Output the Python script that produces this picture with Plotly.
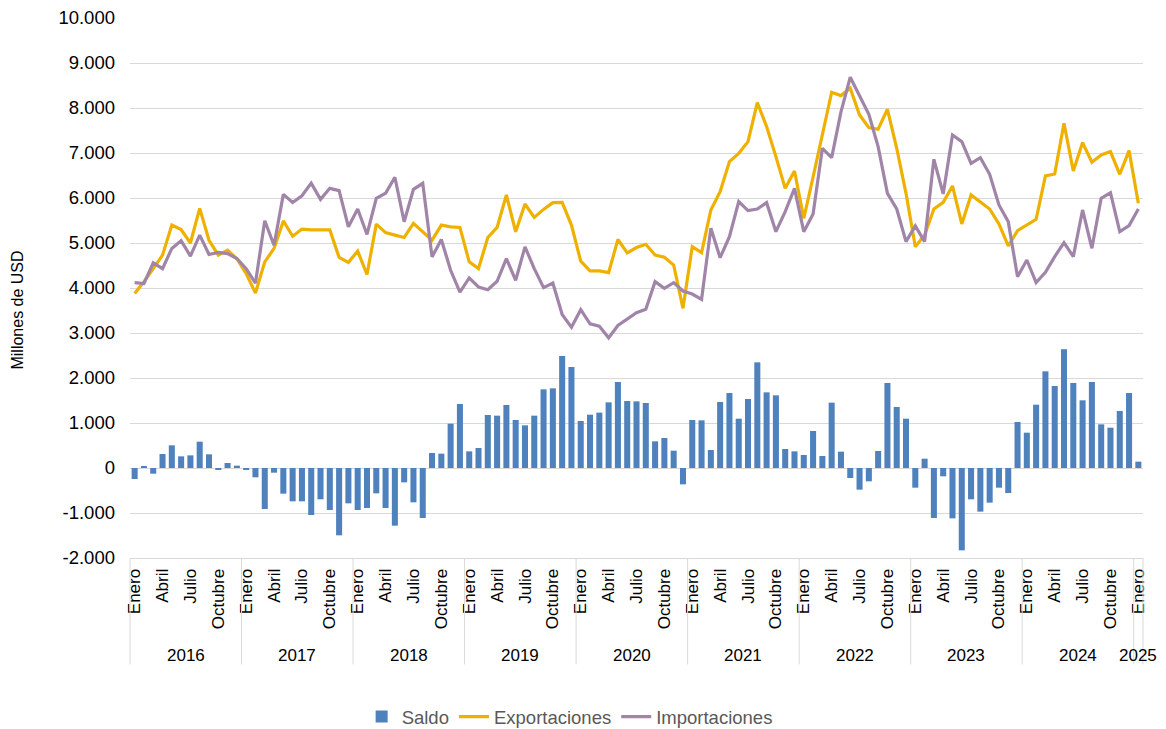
import plotly.graph_objects as go

# ---------------- data ----------------
years = ["2016", "2017", "2018", "2019", "2020", "2021", "2022", "2023", "2024", "2025"]
month_names = ["Enero", "Febrero", "Marzo", "Abril", "Mayo", "Junio", "Julio",
               "Agosto", "Septiembre", "Octubre", "Noviembre", "Diciembre"]
shown_months = ["Enero", "Abril", "Julio", "Octubre"]

exportaciones = [
    3880, 4140, 4430, 4730, 5400, 5300, 5000, 5770, 5060, 4730, 4840, 4650,
    4320, 3890, 4580, 4880, 5490, 5150, 5310, 5290, 5290, 5290, 4680, 4570,
    4820, 4300, 5420, 5230, 5175, 5123, 5435, 5249, 5063, 5398, 5360, 5346,
    4580, 4431, 5123, 5346, 6067, 5249, 5866, 5569, 5747, 5896, 5903, 5398,
    4595, 4379, 4379, 4342, 5078, 4781, 4900, 4971, 4734, 4682, 4511, 3548,
    4919, 4785, 5734, 6141, 6808, 6993, 7253, 8120, 7587, 6919, 6215, 6601,
    5549, 6467, 7372, 8350, 8276, 8439, 7846, 7564, 7527, 7972, 7105, 6104,
    4919, 5178, 5756, 5904, 6267, 5423, 6067, 5919, 5756, 5423, 4934, 5275,
    5400, 5526, 6490, 6534, 7661, 6601, 7231, 6794, 6957, 7031, 6527, 7053,
    5882,
]
importaciones = [
    4120, 4100, 4560, 4430, 4880, 5050, 4710, 5175, 4745, 4790, 4765, 4655,
    4430, 4110, 5495, 4950, 6080, 5900, 6050, 6330, 5970, 6215, 6165, 5360,
    5755, 5190, 5995, 6105, 6461, 5472, 6193, 6327, 4691, 5078, 4394, 3911,
    4223, 4022, 3963, 4149, 4654, 4171, 4914, 4431, 4007, 4112, 3413, 3130,
    3517, 3204, 3152, 2892, 3167, 3316, 3450, 3526, 4141, 3993, 4119, 3933,
    3867, 3748, 5326, 4674, 5141, 5919, 5719, 5756, 5897, 5252, 5697, 6215,
    5252, 5645, 7105, 6897, 7913, 8683, 8290, 7861, 7142, 6104, 5756, 5030,
    5378, 5030, 6860, 6090, 7401, 7253, 6771, 6897, 6527, 5845, 5475, 4252,
    4622, 4119, 4348, 4697, 5008, 4697, 5734, 4882, 5993, 6119, 5252, 5386,
    5756,
]
saldo = [
    -244, 44, -126, 311, 504, 259, 281, 585, 304, -37, 111, 52,
    -44, -207, -911, -104, -570, -741, -741, -1044, -696, -933, -1496, -785,
    -933, -889, -563, -889, -1281, -319, -763, -1111, 333, 319, 985, 1422,
    370, 444, 1178, 1163, 1400, 1067, 948, 1163, 1748, 1770, 2489, 2244,
    1044, 1185, 1230, 1459, 1911, 1489, 1481, 1444, 593, 667, 385, -363,
    1067, 1059, 400, 1467, 1667, 1096, 1533, 2348, 1681, 1615, 422, 370,
    289, 822, 267, 1452, 363, -222, -481, -296, 378, 1889, 1356, 1096,
    -437, 207, -1111, -185, -1119, -1830, -696, -970, -770, -437, -556, 1022,
    785, 1407, 2148, 1822, 2640, 1889, 1504, 1911, 970, 896, 1267, 1667,
    141,
]
y_tick_vals = [10000, 9000, 8000, 7000, 6000, 5000, 4000, 3000, 2000, 1000, 0, -1000, -2000]
y_tick_text = ["10.000", "9.000", "8.000", "7.000", "6.000", "5.000", "4.000",
               "3.000", "2.000", "1.000", "0", "-1.000", "-2.000"]

# ---------------- derived ----------------
n = len(exportaciones)
x = list(range(n))
month_of = [month_names[i % 12] for i in range(n)]
year_of = [years[i // 12] for i in range(n)]
tick_vals = [i for i in x if month_of[i] in shown_months]
tick_text = [month_of[i] for i in tick_vals]

BLUE = "#4F81BD"
GOLD = "#EFB100"
PURPLE = "#A085A8"
GRID = "#D9D9D9"
FONT = "Liberation Sans, Arial, sans-serif"

# page body has an 8px margin; the figure is sized so that it fills the window
W, H = 1158, 721

fig = go.Figure()
fig.add_trace(go.Bar(x=x, y=saldo, name="Saldo", marker=dict(color=BLUE, line=dict(width=0))))
fig.add_trace(go.Scatter(x=x, y=exportaciones, name="Exportaciones", mode="lines",
                         line=dict(color=GOLD, width=3.2)))
fig.add_trace(go.Scatter(x=x, y=importaciones, name="Importaciones", mode="lines",
                         line=dict(color=PURPLE, width=3.2)))

x_lo, x_hi = -0.5, n - 0.5

shapes = []
annotations = []
boundaries = [x_lo] + [i - 0.5 for i in x if i > 0 and month_of[i] == "Enero"] + [x_hi]
for b in boundaries:
    px = (b - x_lo) / (x_hi - x_lo)
    shapes.append(dict(type="line", xref="paper", yref="paper", x0=px, x1=px, y0=0, y1=-0.197,
                       line=dict(color=GRID, width=1)))
for yr in years:
    idx = [i for i in x if year_of[i] == yr]
    annotations.append(dict(x=(idx[0] + idx[-1]) / 2, y=-0.181, xref="x", yref="paper",
                            text=yr, showarrow=False, yanchor="middle",
                            font=dict(size=17, color="#000000", family=FONT)))
annotations.append(dict(x=-0.1106, y=0.46, xref="paper", yref="paper", text="Millones de USD",
                        textangle=-90, showarrow=False, xanchor="center", yanchor="middle",
                        font=dict(size=16, color="#000000", family=FONT)))

fig.update_layout(
    width=W, height=H, autosize=False,
    margin=dict(l=122, r=23, t=10, b=171, pad=0, autoexpand=False),
    paper_bgcolor="white", plot_bgcolor="white",
    font=dict(family=FONT, color="#000000"),
    bargap=0.35,
    showlegend=True,
    legend=dict(orientation="h", xref="container", yref="container", x=0.485, y=1 - 709 / H,
                xanchor="center", yanchor="middle",
                font=dict(size=18.5, color="#595959", family=FONT),
                itemwidth=30, tracegroupgap=0),
    shapes=shapes,
    annotations=annotations,
    xaxis=dict(range=[x_lo, x_hi], tickmode="array", tickvals=tick_vals, ticktext=tick_text,
               tickangle=-90, showgrid=False, zeroline=False, showline=True, linecolor=GRID,
               linewidth=1, ticks="", ticklabelstandoff=3, automargin=False,
               tickfont=dict(size=17, color="#000000", family=FONT)),
    yaxis=dict(range=[-2000, 10000], tickmode="array", tickvals=y_tick_vals, ticktext=y_tick_text,
               showgrid=True, gridcolor=GRID, gridwidth=1, zeroline=True, zerolinecolor=GRID,
               zerolinewidth=1, showline=False, ticks="", ticklabelstandoff=14,
               ticklabeloverflow="allow", automargin=False,
               tickfont=dict(size=18.5, color="#000000", family=FONT)),
)

fig.write_html("out.html")
